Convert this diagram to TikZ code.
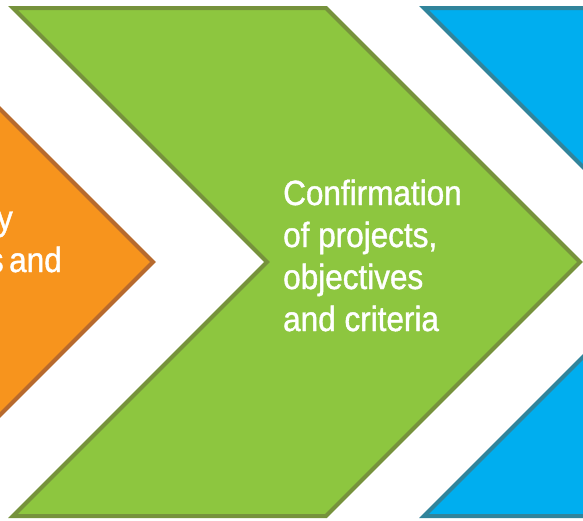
\documentclass[tikz,border=0pt]{standalone}
\usepackage{fontspec}
\setmainfont{Liberation Sans}[FakeStretch=0.9, FakeBold=1.1]
\definecolor{gfill}{RGB}{141,198,63}
\definecolor{gline}{RGB}{118,146,60}
\definecolor{ofill}{RGB}{247,148,29}
\definecolor{oline}{RGB}{183,106,46}
\definecolor{bfill}{RGB}{0,174,239}
\definecolor{bline}{RGB}{49,132,155}
\tikzset{
  chev/.style={line width=4pt, line join=miter, miter limit=10},
  lbl/.style={text=white, inner sep=0pt, anchor=base west, font=\fontsize{35pt}{42pt}\selectfont},
  lble/.style={lbl, anchor=base east}
}
\begin{document}
\begin{tikzpicture}[x=1pt,y=-1pt]
\useasboundingbox (0,0) rectangle (583,520);
\clip (0,0) rectangle (583,520);
\fill[white] (0,0) rectangle (583,520);
% orange chevron (left, cut off)
\draw[chev, fill=ofill, draw=oline] (-420,8) -- (-101,8) -- (153,262) -- (-101,516) -- (-420,516) -- (-166,262) -- cycle;
% green chevron
\draw[chev, fill=gfill, draw=gline] (13,8) -- (326,8) -- (580,262) -- (326,516) -- (13,516) -- (267,262) -- cycle;
% blue chevron (right, cut off)
\draw[chev, fill=bfill, draw=bline] (424,8) -- (740,8) -- (994,262) -- (740,516) -- (424,516) -- (678,262) -- cycle;
% orange text (cut off)
\node[lble] (o1) at (13,230) {y};
\node[lble] (o2) at (62,272) {\spaceskip=0.16em\relax s and};
% green text
\node[lbl] (g1) at (283,205) {Confirmation};
\node[lbl] (g2) at (283,247) {of projects,};
\node[lbl] (g3) at (283,289) {objectives};
\node[lbl] (g4) at (283,331) {and criteria};
\end{tikzpicture}
\end{document}
